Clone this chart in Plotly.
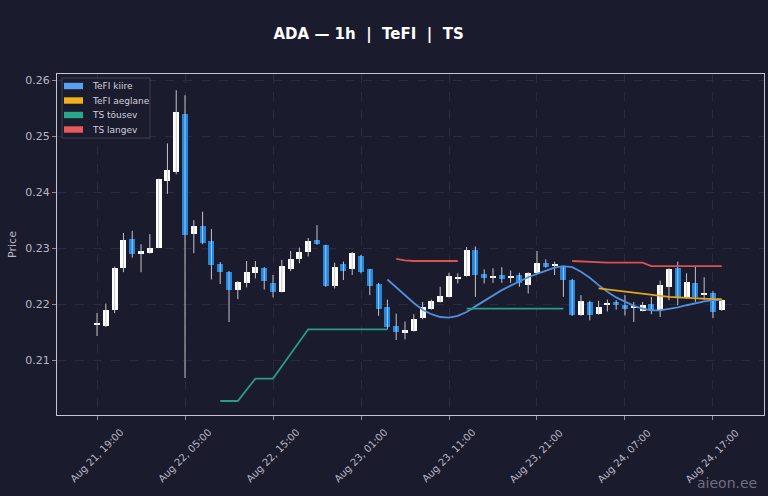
import plotly.graph_objects as go
import pandas as pd

# hourly candles, ADA
start = '2024-08-21 19:00'
opens = [0.2163, 0.2161, 0.2190, 0.2264, 0.2317, 0.2289, 0.2291, 0.2301, 0.2420, 0.2436,
         0.2540, 0.2325, 0.2340, 0.2313, 0.2271, 0.2258, 0.2225, 0.2237, 0.2256, 0.2264,
         0.2238, 0.2222, 0.2262, 0.2280, 0.2293, 0.2314, 0.2305, 0.2232, 0.2271, 0.2262,
         0.2286, 0.2262, 0.2236, 0.2194, 0.2161, 0.2149, 0.2152, 0.2176, 0.2192, 0.2204,
         0.2213, 0.2245, 0.2250, 0.2296, 0.2253, 0.2248, 0.2252, 0.2248, 0.2252, 0.2234,
         0.2255, 0.2274, 0.2269, 0.2266, 0.2244, 0.2180, 0.2204, 0.2182, 0.2200, 0.2204,
         0.2198, 0.2194, 0.2188, 0.2200, 0.2189, 0.2231, 0.2264, 0.2213, 0.2237, 0.2216,
         0.2220, 0.2189]
highs = [0.2184, 0.2201, 0.2267, 0.2327, 0.2331, 0.2307, 0.2325, 0.2424, 0.2487, 0.2582,
         0.2573, 0.2350, 0.2365, 0.2334, 0.2275, 0.2259, 0.2241, 0.2277, 0.2277, 0.2266,
         0.2252, 0.2279, 0.2295, 0.2301, 0.2318, 0.2341, 0.2306, 0.2274, 0.2276, 0.2293,
         0.2288, 0.2263, 0.2238, 0.2208, 0.2183, 0.2169, 0.2182, 0.2204, 0.2208, 0.2231,
         0.2256, 0.2255, 0.2302, 0.2303, 0.2262, 0.2264, 0.2266, 0.2260, 0.2256, 0.2257,
         0.2295, 0.2280, 0.2276, 0.2268, 0.2245, 0.2216, 0.2206, 0.2206, 0.2208, 0.2207,
         0.2216, 0.2204, 0.2204, 0.2213, 0.2242, 0.2264, 0.2276, 0.2255, 0.2267, 0.2248,
         0.2223, 0.2208]
lows = [0.2143, 0.2159, 0.2184, 0.2257, 0.2283, 0.2257, 0.2290, 0.2300, 0.2397, 0.2432,
        0.2068, 0.2291, 0.2307, 0.2244, 0.2236, 0.2168, 0.2209, 0.2230, 0.2246, 0.2226,
        0.2212, 0.2221, 0.2259, 0.2273, 0.2285, 0.2306, 0.2231, 0.2228, 0.2243, 0.2252,
        0.2255, 0.2216, 0.2179, 0.2155, 0.2136, 0.2137, 0.2151, 0.2173, 0.2190, 0.2203,
        0.2212, 0.2237, 0.2249, 0.2213, 0.2237, 0.2238, 0.2238, 0.2238, 0.2231, 0.2219,
        0.2254, 0.2265, 0.2252, 0.2213, 0.2179, 0.2179, 0.2171, 0.2181, 0.2187, 0.2190,
        0.2180, 0.2168, 0.2187, 0.2182, 0.2177, 0.2207, 0.2198, 0.2210, 0.2204, 0.2207,
        0.2175, 0.2188]
closes = [0.2165, 0.2190, 0.2265, 0.2314, 0.2290, 0.2295, 0.2300, 0.2423, 0.2439, 0.2543,
          0.2323, 0.2340, 0.2310, 0.2270, 0.2257, 0.2225, 0.2240, 0.2257, 0.2266, 0.2242,
          0.2222, 0.2268, 0.2280, 0.2294, 0.2312, 0.2307, 0.2232, 0.2266, 0.2259, 0.2291,
          0.2258, 0.2232, 0.2192, 0.2160, 0.2150, 0.2154, 0.2173, 0.2195, 0.2205, 0.2214,
          0.2250, 0.2247, 0.2296, 0.2252, 0.2247, 0.2250, 0.2245, 0.2250, 0.2237, 0.2255,
          0.2273, 0.2267, 0.2271, 0.2243, 0.2180, 0.2206, 0.2180, 0.2195, 0.2202, 0.2198,
          0.2191, 0.2196, 0.2198, 0.2189, 0.2234, 0.2262, 0.2213, 0.2239, 0.2213, 0.2220,
          0.2186, 0.2207]

# indicators (None = not drawn)
tefi_fast = [None] * 33 + [
    0.2244, 0.2230, 0.2215, 0.2202, 0.2190, 0.2182, 0.2177, 0.2176, 0.2179, 0.2186,
    0.2196, 0.2206, 0.2216, 0.2225, 0.2233, 0.2241, 0.2248, 0.2254, 0.2260, 0.2265,
    0.2268, 0.2266, 0.2258, 0.2247, 0.2234, 0.2222, 0.2212, 0.2204, 0.2197, 0.2192,
    0.2189, 0.2189, 0.2191, 0.2194, 0.2198, 0.2202, 0.2205, 0.2207, 0.2207]
tefi_slow = [None] * 57 + [
    0.2228, 0.2226, 0.2224, 0.2222, 0.2220, 0.2218, 0.2216, 0.2214, 0.2213, 0.2212,
    0.2211, 0.2210, 0.2210, 0.2209, 0.2209]
ts_up = [None] * 14 + [
    0.2027, 0.2027, 0.2027, 0.2047, 0.2067, 0.2067, 0.2067, 0.2089, 0.2111, 0.2133,
    0.2155, 0.2155, 0.2155, 0.2155, 0.2155, 0.2155, 0.2155, 0.2155, 0.2155, 0.2155,
    None, None, None, None, None, None, None, None,
    0.2192, 0.2192, 0.2192, 0.2192, 0.2192, 0.2192, 0.2192, 0.2192, 0.2192, 0.2192,
    0.2192, 0.2192] + [None] * 18
ts_down = [None] * 34 + [
    0.2281, 0.2278, 0.2277, 0.2277, 0.2277, 0.2277, 0.2277, 0.2277,
    None, None, None, None, None, None, None, None, None, None, None, None,
    0.2277, 0.2276, 0.2275, 0.2274, 0.2274, 0.2274, 0.2274, 0.2274, 0.2274,
    0.2268, 0.2268, 0.2268, 0.2268, 0.2268, 0.2268, 0.2268, 0.2268, 0.2268]

legend_names = ['TeFI kiire', 'TeFI aeglane', 'TS tõusev', 'TS langev']

times = pd.date_range(start, periods=len(opens), freq='h')
tick_times = pd.date_range(start, times[-1], freq='10h')

BG = '#1b1b2e'
UP = '#ffffff'
DOWN = '#1e88e5'
WICK = '#c4c4cc'
TXT = '#b8b8c4'

fig = go.Figure()

# wicks
wx, wy = [], []
for t, h, l in zip(times, highs, lows):
    wx += [t, t, None]
    wy += [l, h, None]
fig.add_trace(go.Scatter(x=wx, y=wy, mode='lines', line=dict(color=WICK, width=1),
                         showlegend=False, hoverinfo='skip'))

# bodies
base = [min(o, c) for o, c in zip(opens, closes)]
height = [max(abs(c - o), 0.00018) for o, c in zip(opens, closes)]
colors = [UP if c >= o else DOWN for o, c in zip(opens, closes)]
fig.add_trace(go.Bar(x=times, y=height, base=base, width=0.68 * 3600000,
                     marker=dict(color=colors, line_width=0), showlegend=False))

series = [tefi_fast, tefi_slow, ts_up, ts_down]
line_colors = ['#4f8fdc', '#e3a51a', '#2a9d86', '#d9534f']
swatch_colors = ['#5a9ff0', '#f0b11c', '#2aa68a', '#e85a5a']
for name, vals, clr in zip(legend_names, series, line_colors):
    fig.add_trace(go.Scatter(x=times, y=vals, mode='lines', name=name,
                             line=dict(color=clr, width=1.8), showlegend=False))

# matplotlib-style legend box (paper coords, plot area is 707x341 px)
PW, PH = 707, 341
fig.add_shape(type='rect', xref='paper', yref='paper', x0=5 / PW, x1=93 / PW,
              y0=1 - 64 / PH, y1=1 - 4 / PH, fillcolor=BG,
              line=dict(color='#3e3e54', width=1), layer='above')
for i, (name, sw) in enumerate(zip(legend_names, swatch_colors)):
    yc = 1 - (12 + 14.5 * i) / PH
    fig.add_shape(type='rect', xref='paper', yref='paper', x0=7 / PW, x1=26 / PW,
                  y0=yc - 3.2 / PH, y1=yc + 3.2 / PH, fillcolor=sw, line_width=0,
                  layer='above')
    fig.add_annotation(text=name, xref='paper', yref='paper', x=33 / PW, y=yc,
                       xanchor='left', yanchor='middle', showarrow=False,
                       font=dict(size=9, color='#d0d0dc'))

# rotated x tick labels centred on the ticks
for t in tick_times:
    fig.add_annotation(text=t.strftime('%b %d, %H:%M'), x=t, xref='x', yref='paper',
                       y=-41 / PH, xanchor='center', yanchor='middle', textangle=-45,
                       showarrow=False, font=dict(size=10, color=TXT))

fig.update_layout(
    width=768, height=496,
    paper_bgcolor=BG, plot_bgcolor=BG,
    margin=dict(l=57, r=4, t=74, b=81),
    font=dict(family='DejaVu Sans', color=TXT, size=10),
    title=dict(text='<b>ADA — 1h  |  TeFI  |  TS</b>', x=0.48, xanchor='center',
               y=0.931, yanchor='middle', font=dict(size=15, color='#ffffff')),
    showlegend=False,
    bargap=0,
)
fig.update_xaxes(
    range=['2024-08-21 14:27', '2024-08-24 22:48'],
    tickvals=tick_times, showticklabels=False,
    showgrid=True, gridcolor='#2a2a42', griddash='dash', gridwidth=1,
    showline=True, linecolor='#c4c4d4', linewidth=1.2, mirror=True,
    ticks='outside', ticklen=4, tickcolor='#8a8a9a', zeroline=False,
)
fig.update_yaxes(
    range=[0.2002, 0.2611], dtick=0.01, tick0=0.2, tickformat='.2f',
    showgrid=True, gridcolor='#2a2a42', griddash='dash', gridwidth=1,
    showline=True, linecolor='#c4c4d4', linewidth=1.2, mirror=True,
    ticks='outside', ticklen=4, tickcolor='#8a8a9a', zeroline=False,
    title=dict(text='Price', font=dict(size=11, color=TXT), standoff=6),
    tickfont=dict(size=11, color=TXT),
)
fig.add_annotation(text='aieon.ee', xref='paper', yref='paper', x=0.993, y=-0.2,
                   xanchor='right', yanchor='middle', showarrow=False,
                   font=dict(size=14, color='#6e6e80'))

fig.write_html("out.html", config={'displayModeBar': False},
               post_script="document.body.style.margin='0';"
                           "document.body.style.background='#1b1b2e';")
